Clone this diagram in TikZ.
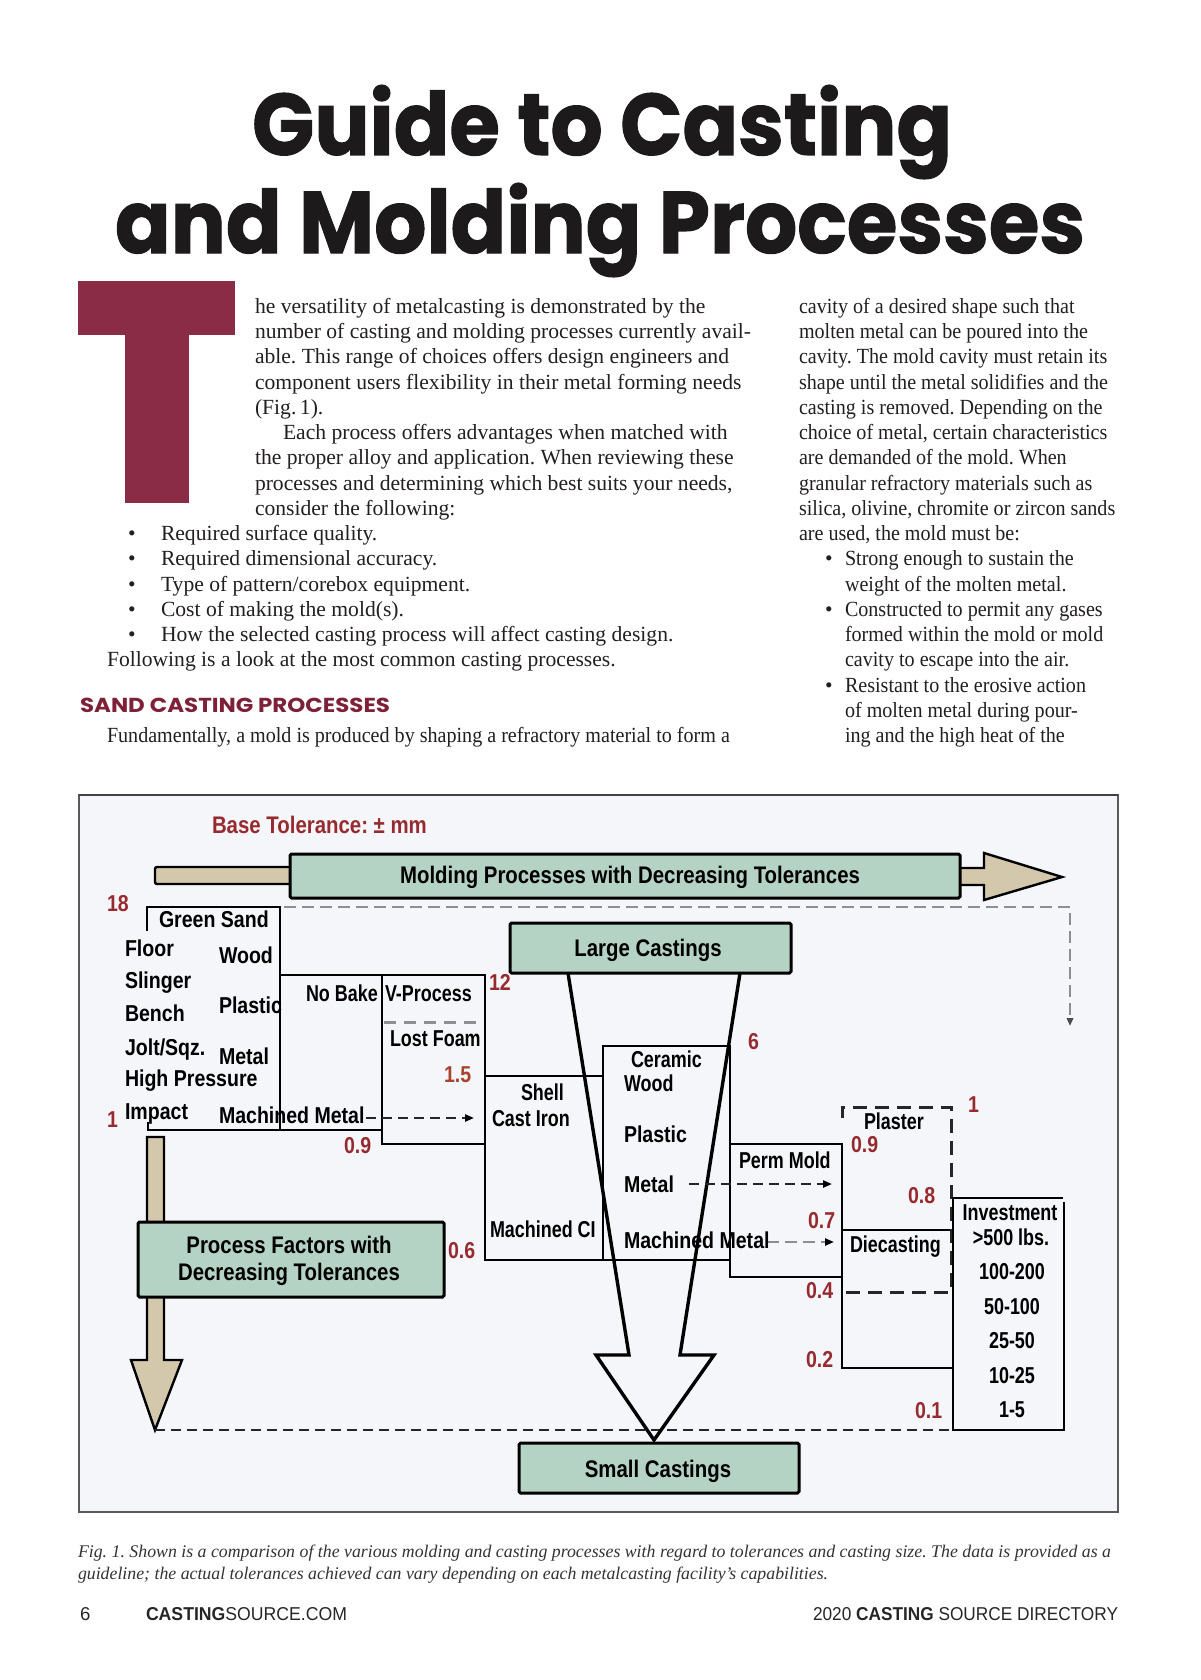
\documentclass[tikz,border=0pt]{standalone}
\usepackage{fontspec}
\setmainfont{Liberation Serif}
\newfontfamily\rcolfont{Liberation Serif}[FakeStretch=0.93]
\newfontfamily\titlefont{Poppins}
\newfontfamily\titleheavy{Poppins}[FakeBold=1.2]
\newfontfamily\dgfont{Liberation Sans}[FakeStretch=0.85]
\newfontfamily\dgfontn{Liberation Sans}[FakeStretch=0.78]
\newfontfamily\footfont{Liberation Sans}
\usetikzlibrary{arrows.meta}
\definecolor{crimson}{HTML}{8A2C45}
\definecolor{headred}{HTML}{7E2038}
\definecolor{numred}{HTML}{962A2F}
\definecolor{numorange}{HTML}{A8432E}
\definecolor{boxgreen}{HTML}{B5D3C4}
\definecolor{tancol}{HTML}{D4C8AC}
\definecolor{framebg}{HTML}{F4F6F9}
\definecolor{bodytext}{HTML}{231F20}
\definecolor{dashgrey}{HTML}{8E8E8E}
\definecolor{titlecol}{HTML}{1C1A1B}
\frenchspacing
\begin{document}
\begin{tikzpicture}[x=0.5pt,y=-0.5pt,
  every node/.style={inner sep=0pt,outer sep=0pt},
  body/.style={anchor=base west,font=\frenchspacing\fontsize{10.8}{13}\selectfont,text=bodytext},
  rbody/.style={anchor=base west,font=\frenchspacing\rcolfont\fontsize{10.8}{13}\selectfont,text=bodytext},
  bul/.style={anchor=base,font=\fontsize{10.8}{13}\selectfont,text=bodytext},
  dg/.style={anchor=base west,font=\dgfont\bfseries\fontsize{11.5}{13}\selectfont},
  dgn/.style={anchor=base west,font=\dgfontn\bfseries\fontsize{11.5}{13}\selectfont},
  dgc/.style={anchor=base,font=\dgfontn\bfseries\fontsize{11.5}{13}\selectfont},
  boxtxt/.style={anchor=base,font=\dgfont\bfseries\fontsize{12}{14}\selectfont},
  num/.style={dg,text=numred},
  gbox/.style={draw=black,line width=1.5pt,fill=boxgreen,rounded corners=0.8pt},
  pline/.style={line width=1.4pt,black,line cap=rect},
  pdash/.style={line width=1.5pt,black!85,dash pattern=on 7pt off 4pt},
  bdash/.style={line width=1.1pt,black!85,dash pattern=on 5pt off 3pt},
  gdash/.style={line width=1pt,dashgrey,dash pattern=on 6pt off 3pt},
  tip/.style={-{Triangle[length=4.5pt,width=3.5pt,color=black]}}
]
\useasboundingbox (0,0) rectangle (1200,1680);
\fill[white] (0,0) rectangle (1200,1680);

% ---------- title ----------
\node[anchor=base west,text=titlecol] (title1) at (252,155)
  {\resizebox{350pt}{35pt}{\titleheavy\bfseries Guide to Casting}};
\node[anchor=base west,text=titlecol] (title2) at (115,253)
  {\resizebox{485pt}{35pt}{\titleheavy\bfseries and Molding Processes}};

% ---------- drop cap ----------
\fill[crimson] (78,281) rectangle (235,335);
\fill[crimson] (125,334) rectangle (189,503);

% ---------- left column ----------
\node[body] (l1) at (255,313.3) {he versatility of metalcasting is demonstrated by the};
\node[body] (l2) at (255,338.5) {number of casting and molding processes currently avail-};
\node[body] (l3) at (255,363.8) {able. This range of choices offers design engineers and};
\node[body] (l4) at (255,389.0) {component users flexibility in their metal forming needs};
\node[body] (l5) at (255,414.3) {(Fig.\,1).};
\node[body] (l6) at (283,439.5) {Each process offers advantages when matched with};
\node[body] (l7) at (255,464.8) {the proper alloy and application. When reviewing these};
\node[body] (l8) at (255,490.0) {processes and determining which best suits your needs,};
\node[body] (l9) at (255,515.3) {consider the following:};
\node[bul] (lb1) at (132,540.5) {•};
\node[body] (lt1) at (161,540.5) {Required surface quality.};
\node[bul] (lb2) at (132,565.8) {•};
\node[body] (lt2) at (161,565.8) {Required dimensional accuracy.};
\node[bul] (lb3) at (132,591.0) {•};
\node[body] (lt3) at (161,591.0) {Type of pattern/corebox equipment.};
\node[bul] (lb4) at (132,616.3) {•};
\node[body] (lt4) at (161,616.3) {Cost of making the mold(s).};
\node[bul] (lb5) at (132,641.5) {•};
\node[body] (lt5) at (161,641.5) {How the selected casting process will affect casting design.};
\node[body] (l10) at (107,666.8) {Following is a look at the most common casting processes.};
\node[anchor=base west,text=headred] (head) at (80,712)
  {\resizebox{155pt}{7.2pt}{\titlefont\bfseries SAND CASTING PROCESSES}};
\node[rbody] (l11) at (107,742.5) {Fundamentally, a mold is produced by shaping a refractory material to form a};

% ---------- right column ----------
\node[rbody] (r1) at (799,313.3) {cavity of a desired shape such that};
\node[rbody] (r2) at (799,338.5) {molten metal can be poured into the};
\node[rbody] (r3) at (799,363.8) {cavity. The mold cavity must retain its};
\node[rbody] (r4) at (799,389.0) {shape until the metal solidifies and the};
\node[rbody] (r5) at (799,414.3) {casting is removed. Depending on the};
\node[rbody] (r6) at (799,439.5) {choice of metal, certain characteristics};
\node[rbody] (r7) at (799,464.8) {are demanded of the mold. When};
\node[rbody] (r8) at (799,490.0) {granular refractory materials such as};
\node[rbody] (r9) at (799,515.3) {silica, olivine, chromite or zircon sands};
\node[rbody] (r10) at (799,540.5) {are used, the mold must be:};
\node[bul] (rb1) at (829,565.8) {•};
\node[rbody] (r11) at (845,565.8) {Strong enough to sustain the};
\node[rbody] (r12) at (845,591.0) {weight of the molten metal.};
\node[bul] (rb2) at (829,616.3) {•};
\node[rbody] (r13) at (845,616.3) {Constructed to permit any gases};
\node[rbody] (r14) at (845,641.5) {formed within the mold or mold};
\node[rbody] (r15) at (845,666.8) {cavity to escape into the air.};
\node[bul] (rb3) at (829,692.0) {•};
\node[rbody] (r16) at (845,692.0) {Resistant to the erosive action};
\node[rbody] (r17) at (845,717.3) {of molten metal during pour-};
\node[rbody] (r18) at (845,742.5) {ing and the high heat of the};

% ---------- figure frame ----------
\draw[draw=black!65,line width=0.6pt,fill=framebg] (79,795) rectangle (1118,1512);
\draw[black!75,line width=0.9pt] (79,795) -- (1118,795);

% tan arrows
\draw[black,line width=1.2pt,fill=tancol,rounded corners=1pt] (155,867) rectangle (292,884);
\draw[black,line width=1.2pt,fill=tancol,line join=miter]
  (950,868) -- (984,868) -- (984,853) -- (1062,877) -- (984,900) -- (984,885) -- (950,885) -- cycle;
\draw[black,line width=1.2pt,fill=tancol,line join=miter]
  (147,1137) -- (164,1137) -- (164,1360) -- (182,1360) -- (155,1430) -- (131,1360) -- (147,1360) -- cycle;

% green boxes
\node[gbox,minimum width=335pt,minimum height=22pt] (moldbox) at (625,876) {};
\node[boxtxt] (moldtxt) at (630,883) {Molding Processes with Decreasing Tolerances};
\node[gbox,minimum width=140.5pt,minimum height=25pt] (largebox) at (650.5,948) {};
\node[boxtxt] (largetxt) at (648,956) {Large Castings};
\node[gbox,minimum width=140pt,minimum height=25pt] (smallbox) at (659,1468) {};
\node[boxtxt] (smalltxt) at (658,1477) {Small Castings};
\node[gbox,minimum width=153pt,minimum height=37.5pt] (pfbox) at (291,1259.5) {};
\node[boxtxt] (pf1) at (289,1253) {Process Factors with};
\node[boxtxt] (pf2) at (289,1280) {Decreasing Tolerances};

% grey dashed top line with arrow
\coordinate (gd1) at (284,907);
\coordinate (gd2) at (1070,907);
\coordinate (gd3) at (1070,1026);
\draw[gdash,-{Triangle[length=4pt,width=3.2pt,color=black!70]}] (gd1) -- (gd2) -- (gd3);

% process boxes
\draw[pline] (147,930) -- (147,907) -- (280,907) -- (280,1130);
\draw[pline] (148,1123) -- (148,1130) -- (382,1130);
\draw[pline] (280,975) -- (485,975);
\draw[pline] (382,975) -- (382,1144) -- (485,1144);
\draw[gdash,line width=1.5pt,dash pattern=on 6pt off 4pt] (384,1022) -- (485,1022);
\draw[pline] (485,975) -- (485,1260) -- (730,1260);
\draw[pline] (485,1076) -- (603,1076);
\draw[pline] (603,1260) -- (603,1046) -- (730,1046) -- (730,1277) -- (842,1277);
\draw[pline] (730,1144) -- (842,1144) -- (842,1368) -- (953,1368);
\draw[pline] (842,1230) -- (951,1230);
\draw[pdash] (842,1118) -- (842,1107) -- (951,1107) -- (951,1292) -- (842,1292);
\draw[pline] (953,1430) -- (953,1198) -- (1062,1198);
\draw[pline] (1064,1203) -- (1064,1430) -- (953,1430);
\draw[bdash] (155,1430) -- (953,1430);

% funnel arrow
\draw[line width=1.7pt,line join=miter]
  (568,973) -- (629,1355) -- (596,1355) -- (654,1440) -- (714,1355) -- (680,1355) -- (740,973);

% dashed arrows
\coordinate (a1s) at (366,1118); \coordinate (a1e) at (474,1118);
\draw[bdash,tip] (a1s) -- (a1e);
\coordinate (a2s) at (689,1184); \coordinate (a2e) at (832,1184);
\draw[bdash,tip] (a2s) -- (a2e);
\coordinate (a3s) at (767,1242); \coordinate (a3e) at (834,1242);
\draw[gdash,line width=1.1pt,tip] (a3s) -- (a3e);

% diagram labels
\node[dg,text=numred,font=\dgfont\bfseries\fontsize{12}{14}\selectfont] (basetol) at (212,833) {Base Tolerance: ± mm};
\node[num] (n18) at (107,911) {18};
\node[dg] (gs) at (159,927) {Green Sand};
\node[dg] (floor) at (125,956) {Floor};
\node[dg] (wood1) at (219,963) {Wood};
\node[dg] (sling) at (125,988) {Slinger};
\node[dg] (plast1) at (219,1013) {Plastic};
\node[dg] (bench) at (125,1021) {Bench};
\node[dg] (jolt) at (125,1055) {Jolt/Sqz.};
\node[dg] (metal1) at (219,1064) {Metal};
\node[dg] (hp) at (125,1086) {High Pressure};
\node[dg] (impact) at (125,1119) {Impact};
\node[num] (n1a) at (107,1127) {1};
\node[dg] (mm1) at (219,1123) {Machined Metal};
\node[num] (n09a) at (344,1153) {0.9};
\node[dgn] (nobake) at (306,1001) {No Bake};
\node[dgn] (vproc) at (385,1001) {V-Process};
\node[dgn] (lfoam) at (390,1046) {Lost Foam};
\node[num,text=numorange] (n15) at (444,1082) {1.5};
\node[num] (n12) at (489,990) {12};
\node[dgn] (shell) at (521,1100) {Shell};
\node[dgn] (ci) at (492,1126) {Cast Iron};
\node[dgn] (mci) at (490,1237) {Machined CI};
\node[num] (n06) at (448,1258) {0.6};
\node[dgn] (ceramic) at (631,1067) {Ceramic};
\node[dgn] (wood2) at (624,1091) {Wood};
\node[dg] (plast2) at (624,1142) {Plastic};
\node[dg] (metal2) at (624,1192) {Metal};
\node[dg] (mm2) at (624,1248) {Machined Metal};
\node[num] (n6) at (748,1049) {6};
\node[dgn] (perm) at (739,1168) {Perm Mold};
\node[num] (n07) at (808,1228) {0.7};
\node[num] (n04) at (806,1298) {0.4};
\node[num] (n02) at (806,1367) {0.2};
\node[num] (n1b) at (968,1112) {1};
\node[dgn] (plaster) at (864,1129) {Plaster};
\node[num] (n09b) at (851,1152) {0.9};
\node[num] (n08) at (908,1203) {0.8};
\node[dgn] (diec) at (850,1252) {Diecasting};
\node[num] (n01) at (915,1418) {0.1};
\node[dgc] (inv) at (1010,1220) {Investment};
\node[dgc] (w500) at (1011,1245) {>500 lbs.};
\node[dgc] (w100) at (1012,1279) {100-200};
\node[dgc] (w50) at (1012,1314) {50-100};
\node[dgc] (w25) at (1012,1348) {25-50};
\node[dgc] (w10) at (1012,1383) {10-25};
\node[dgc] (w1) at (1012,1417) {1-5};

% ---------- caption & footer ----------
\node[anchor=base west,text=black!80] (cap1) at (78,1557)
  {\resizebox{516.5pt}{!}{\itshape Fig. 1. Shown is a comparison of the various molding and casting processes with regard to tolerances and casting size. The data is provided as a}};
\node[anchor=base west,text=black!80] (cap2) at (78,1579)
  {\resizebox{375pt}{!}{\itshape guideline; the actual tolerances achieved can vary depending on each metalcasting facility’s capabilities.}};
\node[anchor=base west,text=black!85] (pg) at (80,1620) {\resizebox{!}{6.5pt}{\footfont 6}};
\node[anchor=base west,text=black!85] (site) at (146,1620)
  {\resizebox{100.5pt}{6.5pt}{\footfont\textbf{CASTING}SOURCE.COM}};
\node[anchor=base east,text=black!85] (dir) at (1118,1620)
  {\resizebox{152.5pt}{6.5pt}{\footfont 2020 \textbf{CASTING} SOURCE DIRECTORY}};
\end{tikzpicture}
\end{document}
